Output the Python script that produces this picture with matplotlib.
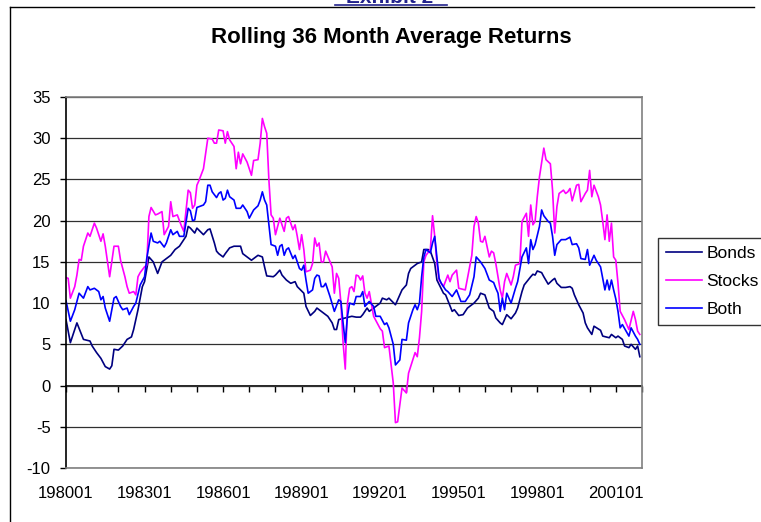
import matplotlib.pyplot as plt
from matplotlib.lines import Line2D

plt.rcParams['font.family'] = ['Liberation Sans', 'DejaVu Sans']
plt.rcParams['axes.unicode_minus'] = False

# month index 0 = 198001
bonds_m = [0, 2, 5, 8, 11, 12, 14, 16, 18, 20, 21, 22, 24, 26, 28, 30, 31, 33, 35, 36,
           38, 40, 42, 44, 46, 48, 50, 52, 55, 56, 57, 59, 60, 63, 65, 66, 68, 69, 70, 72,
           73, 75, 77, 80, 81, 83, 85, 88, 90, 91, 92, 95, 96, 98, 99, 101, 103, 105, 106, 109,
           110, 112, 114, 115, 118, 120, 122, 123, 124, 125, 128, 131, 133, 135, 136, 138, 139, 141, 144, 145,
           147, 148, 151, 152, 154, 156, 157, 158, 159, 161, 163, 164, 166, 167, 169, 170, 173, 174, 177, 178,
           180, 182, 184, 187, 189, 190, 192, 194, 196, 197, 199, 200, 201, 202, 204, 206, 207, 209, 210, 213,
           214, 215, 216, 218, 219, 221, 223, 224, 225, 227, 229, 231, 232, 233, 235, 237, 238, 239, 241, 242,
           245, 246, 249, 250, 252, 253, 255, 256, 258, 259, 261, 262, 263]
bonds_v = [8.0, 5.2, 7.6, 5.6, 5.4, 4.8, 4.0, 3.3, 2.3, 2.0, 2.4, 4.4, 4.3, 4.8, 5.6, 5.9, 6.8, 9.2, 12.0, 12.6,
           15.6, 15.0, 13.6, 15.0, 15.4, 15.8, 16.5, 16.9, 18.1, 19.3, 19.1, 18.5, 19.1, 18.3, 18.9, 19.0, 17.3, 16.3, 16.0, 15.6,
           16.0, 16.7, 16.9, 16.9, 16.0, 15.6, 15.2, 15.8, 15.6, 14.4, 13.3, 13.2, 13.4, 14.0, 13.4, 12.8, 12.4, 12.6, 12.0, 11.2,
           9.6, 8.5, 9.0, 9.4, 8.8, 8.4, 7.6, 6.8, 6.8, 8.0, 8.2, 8.4, 8.3, 8.3, 8.6, 9.4, 9.0, 9.4, 10.0, 10.6,
           10.4, 10.6, 9.8, 10.4, 11.6, 12.2, 13.6, 14.2, 14.4, 14.8, 15.0, 16.5, 16.5, 16.3, 14.8, 12.8, 11.2, 11.0, 9.0, 9.2,
           8.5, 8.6, 9.4, 10.0, 10.6, 11.2, 11.0, 9.4, 9.0, 8.2, 7.6, 7.4, 8.0, 8.6, 8.1, 8.8, 9.4, 11.4, 12.2, 13.2,
           13.5, 13.4, 13.9, 13.7, 13.2, 12.3, 12.8, 13.0, 12.4, 11.9, 11.9, 12.0, 11.8, 11.0, 9.8, 8.8, 7.6, 7.0, 6.2, 7.2,
           6.7, 6.0, 5.8, 6.2, 5.8, 6.0, 5.6, 4.8, 4.6, 5.0, 4.4, 4.8, 3.5]

stocks_m = [0, 1, 2, 4, 5, 6, 7, 8, 10, 11, 13, 14, 16, 17, 18, 20, 22, 24, 25, 27,
            28, 29, 31, 32, 33, 34, 36, 37, 38, 39, 41, 42, 44, 45, 47, 48, 49, 51, 53, 54,
            56, 57, 58, 59, 60, 61, 63, 65, 67, 68, 69, 70, 72, 73, 74, 75, 77, 78, 79, 80,
            81, 83, 85, 86, 88, 89, 90, 91, 92, 93, 94, 95, 96, 98, 100, 101, 102, 104, 105, 106,
            107, 108, 109, 110, 112, 113, 114, 115, 116, 117, 118, 119, 122, 123, 124, 125, 126, 127, 128, 129,
            130, 131, 132, 133, 134, 135, 136, 137, 138, 139, 141, 144, 145, 146, 148, 150, 151, 152, 154, 156,
            157, 160, 161, 162, 163, 164, 165, 167, 168, 169, 170, 171, 173, 175, 176, 177, 179, 180, 183, 184,
            186, 187, 188, 189, 190, 191, 192, 194, 195, 196, 197, 199, 200, 201, 202, 204, 205, 206, 208, 209,
            211, 212, 213, 214, 215, 216, 217, 219, 220, 222, 223, 224, 225, 226, 228, 229, 230, 231, 232, 234,
            235, 236, 238, 239, 240, 241, 242, 244, 245, 246, 247, 248, 249, 250, 251, 252, 253, 254, 256, 258,
            260, 261, 262, 263]
stocks_v = [13.1, 13.0, 10.6, 12.0, 13.4, 15.3, 15.2, 16.9, 18.5, 18.1, 19.7, 19.1, 17.5, 18.4, 16.9, 13.2, 16.9, 16.9, 15.2, 13.2,
            12.0, 11.2, 11.4, 11.0, 13.2, 13.7, 14.4, 14.6, 20.5, 21.6, 20.7, 20.8, 21.1, 18.3, 19.3, 22.3, 20.5, 20.7, 19.3, 18.7,
            23.7, 23.4, 21.5, 21.9, 24.3, 24.9, 26.3, 30.0, 29.9, 29.4, 29.4, 31.0, 30.9, 29.4, 30.8, 29.8, 29.0, 26.3, 28.3, 26.9,
            28.1, 27.1, 25.5, 27.3, 27.4, 29.4, 32.4, 31.4, 30.6, 24.9, 20.7, 20.3, 18.3, 20.3, 18.7, 20.3, 20.5, 18.9, 19.5, 18.1,
            16.5, 18.3, 16.5, 13.8, 14.0, 14.8, 17.9, 16.9, 17.3, 15.0, 15.0, 16.3, 14.4, 11.2, 13.6, 13.0, 10.0, 5.2, 2.0, 10.0,
            11.8, 12.0, 11.4, 13.4, 13.3, 12.8, 13.3, 11.2, 10.6, 11.4, 8.4, 6.9, 6.6, 4.6, 4.8, 0.3, -4.5, -4.4, -0.3, -0.9,
            1.5, 4.0, 3.5, 5.8, 9.0, 15.0, 15.8, 16.5, 20.6, 18.1, 14.8, 12.8, 12.0, 13.4, 12.6, 13.4, 14.0, 11.8, 11.6, 13.0,
            15.8, 19.3, 20.5, 19.7, 17.5, 17.4, 18.1, 15.6, 16.3, 16.1, 14.8, 11.6, 10.6, 12.6, 13.6, 12.2, 13.2, 14.6, 14.8, 19.9,
            20.9, 18.1, 21.9, 19.5, 19.9, 22.9, 25.3, 28.8, 27.4, 26.9, 23.7, 18.5, 21.7, 23.3, 23.7, 23.3, 23.5, 23.9, 22.4, 24.3,
            24.4, 22.3, 23.3, 23.7, 26.1, 22.9, 24.3, 22.9, 21.9, 19.9, 17.7, 20.7, 17.5, 19.7, 15.6, 15.2, 12.4, 9.0, 8.0, 6.8,
            9.0, 8.0, 6.6, 6.2]

both_m = [0, 2, 4, 5, 6, 8, 10, 11, 13, 15, 16, 17, 18, 20, 22, 23, 25, 26, 28, 29,
          31, 32, 34, 36, 37, 39, 40, 42, 43, 45, 46, 48, 49, 51, 52, 54, 56, 57, 58, 59,
          60, 63, 64, 65, 66, 67, 69, 70, 71, 72, 73, 74, 75, 77, 78, 80, 81, 83, 84, 86,
          88, 89, 90, 91, 92, 94, 96, 97, 98, 99, 100, 101, 102, 104, 105, 107, 108, 109, 110, 111,
          113, 114, 115, 116, 117, 118, 119, 121, 123, 125, 126, 127, 128, 129, 130, 132, 133, 135, 136, 137,
          139, 141, 142, 144, 146, 147, 148, 150, 151, 153, 154, 156, 157, 159, 160, 161, 162, 163, 164, 165,
          167, 168, 169, 170, 171, 172, 174, 175, 177, 179, 181, 183, 185, 187, 188, 190, 192, 194, 196, 197,
          198, 199, 200, 201, 202, 204, 206, 207, 209, 211, 212, 213, 214, 215, 217, 218, 219, 221, 222, 223,
          224, 225, 227, 229, 231, 232, 234, 235, 236, 238, 239, 240, 242, 243, 245, 247, 248, 249, 250, 251,
          252, 253, 254, 255, 258, 259, 261, 262, 263]
both_v = [10.3, 7.8, 9.2, 10.2, 11.2, 10.6, 12.0, 11.6, 11.8, 11.4, 10.4, 10.8, 9.4, 7.8, 10.6, 10.8, 9.6, 9.2, 9.4, 8.6,
          9.6, 10.0, 12.2, 13.2, 15.4, 18.5, 17.5, 17.3, 17.5, 16.8, 17.3, 18.9, 18.3, 18.7, 18.1, 18.1, 21.5, 21.2, 20.0, 20.1,
          21.6, 21.9, 22.3, 24.3, 24.3, 23.5, 22.8, 23.3, 23.5, 22.5, 22.7, 23.7, 22.9, 22.5, 21.5, 21.5, 21.9, 21.1, 20.3, 21.3,
          21.8, 22.5, 23.5, 22.5, 21.9, 17.1, 16.9, 15.8, 16.9, 17.1, 15.8, 16.5, 16.7, 15.4, 15.8, 14.2, 14.0, 14.6, 12.8, 11.2,
          11.6, 13.0, 13.4, 13.3, 12.0, 12.0, 12.4, 10.8, 9.0, 10.4, 10.2, 7.6, 5.2, 8.4, 10.0, 9.8, 10.8, 10.8, 11.4, 9.6,
          10.2, 9.6, 8.4, 8.4, 7.4, 7.6, 7.0, 5.0, 2.5, 3.1, 5.6, 5.5, 7.6, 9.2, 9.8, 9.2, 10.0, 13.2, 15.6, 16.5,
          16.1, 17.3, 18.1, 15.6, 13.0, 12.4, 11.6, 11.4, 10.8, 11.6, 10.2, 10.2, 11.0, 13.2, 15.6, 15.0, 14.2, 12.8, 12.5, 11.8,
          11.2, 9.0, 10.6, 9.2, 11.2, 10.0, 11.8, 12.6, 15.6, 16.7, 14.8, 17.7, 16.5, 17.1, 19.3, 21.3, 20.6, 19.9, 19.7, 18.1,
          15.8, 17.1, 17.7, 17.7, 18.0, 17.1, 17.2, 16.7, 15.4, 15.3, 16.5, 14.6, 15.8, 15.2, 14.4, 11.6, 12.8, 11.6, 12.8, 11.6,
          10.5, 9.0, 7.0, 7.4, 6.0, 7.0, 6.0, 5.6, 5.0]

tick_labels = ['198001', '198301', '198601', '198901', '199201', '199501', '199801', '200101']
y_ticks = [-10, -5, 0, 5, 10, 15, 20, 25, 30, 35]

fig = plt.figure(figsize=(7.61, 5.22), dpi=100)
W, H = 761, 522

# outer chart frame
fig.add_artist(Line2D([10 / W, 754 / W], [1 - 7 / H, 1 - 7 / H], color='black', lw=1))
fig.add_artist(Line2D([10 / W, 10 / W], [0, 1 - 7 / H], color='black', lw=1))

# heading above the chart, mostly cut off in the reference
fig.text(390 / W, 1 - 3 / H, 'Exhibit 2', ha='center', va='baseline', fontsize=15,
         fontweight='bold', color='#22228c')
fig.add_artist(Line2D([335 / W, 447 / W], [1 - 5 / H, 1 - 5 / H], color='#22228c', lw=1.2))

fig.text(391 / W, 1 - 37 / H, 'Rolling 36 Month Average Returns', ha='center', va='center',
         fontsize=16, fontweight='bold')

ax = fig.add_axes([66 / W, 1 - 468 / H, 576 / W, 371 / H])
ax.plot(bonds_m, bonds_v, color='#000080', lw=1.2, label='Bonds')
ax.plot(stocks_m, stocks_v, color='#ff00ff', lw=1.2, label='Stocks')
ax.plot(both_m, both_v, color='#0000ff', lw=1.2, label='Both')

ax.set_xlim(0, 264)
ax.set_ylim(-10, 35)
ax.set_yticks(y_ticks)
ax.tick_params(axis='y', direction='out', length=4, width=1, pad=7, labelsize=12)
ax.set_xticks(range(0, 264, 36), tick_labels)
ax.tick_params(axis='x', length=0, pad=13, labelsize=12)
ax.yaxis.grid(True, color='#303030', lw=0.9)
ax.set_axisbelow(True)

for side in ['top', 'right', 'bottom']:
    ax.spines[side].set_color('#808080')
    ax.spines[side].set_linewidth(1.2)
ax.spines['left'].set_color('black')
ax.spines['left'].set_linewidth(1.2)

# category axis crossing at 0
sec = ax.secondary_xaxis(10 / 45)
sec.set_xticks(range(0, 265, 12))
sec.tick_params(axis='x', direction='out', length=4, width=1, labelbottom=False)
sec.spines['bottom'].set_color('black')
sec.spines['bottom'].set_linewidth(1.2)

leg = fig.legend(loc='upper left', bbox_to_anchor=(658 / W, 1 - 238 / H), borderaxespad=0,
                 fontsize=12.5, frameon=True, fancybox=False, edgecolor='black',
                 handlelength=2.1, labelspacing=0.75, borderpad=0.45, handletextpad=0.25)
leg.get_frame().set_linewidth(1)

fig.savefig('out.png', dpi=100)
